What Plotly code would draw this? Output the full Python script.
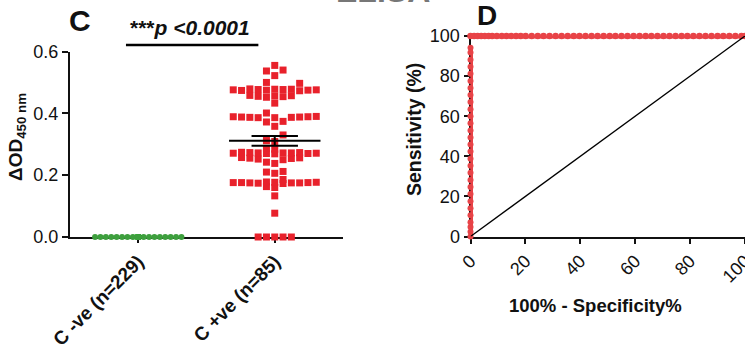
import plotly.graph_objects as go

# ---------------- data ----------------
groups = ["C -ve (n=229)", "C +ve (n=85)"]
c_neg = [0.0] * 229
c_pos = [0, 0, 0, 0, 0, 0.077, 0.133, 0.163, 0.160,
         0.176, 0.175, 0.177, 0.174, 0.176, 0.178, 0.175, 0.176, 0.173, 0.177, 0.175,
         0.186, 0.212, 0.206, 0.210, 0.242, 0.238,
         0.255, 0.252, 0.257, 0.254, 0.250, 0.256,
         0.272, 0.270, 0.273, 0.271, 0.274, 0.269, 0.272, 0.271, 0.273, 0.270, 0.272,
         0.287, 0.284, 0.312, 0.309, 0.330, 0.358, 0.374, 0.372,
         0.388, 0.386, 0.389, 0.387, 0.388, 0.390, 0.386, 0.389, 0.387,
         0.401, 0.433, 0.455, 0.457, 0.452, 0.458, 0.454, 0.456,
         0.477, 0.475, 0.478, 0.474, 0.476, 0.479, 0.475, 0.477, 0.473, 0.478, 0.476,
         0.500, 0.497, 0.522, 0.540, 0.537, 0.555]
mean_pos = 0.311
sem_pos = 0.0155
p_stars = "***"
p_text = "p <0.0001"

# ROC curve (1 - specificity %, sensitivity %)
roc_vert_sens = [0, 2.4, 4.7, 7.1, 10.6, 14.1, 17.6, 21.2, 24.7, 28.2, 31.8, 35.3, 38.8,
                 42.4, 45.9, 49.4, 52.9, 56.5, 60.0, 63.5, 67.1, 70.6, 74.1, 77.6,
                 81.2, 84.7, 88.2, 91.8, 94.1]
roc_horiz_fpr = [0, 1.3, 2.6, 3.9, 5.2, 6.6, 7.9, 9.6, 11.4, 13.1, 14.8, 16.6, 18.3,
                 20.1, 22.3, 24.5, 26.6, 28.8, 31.0, 33.2, 35.4, 37.6, 39.7, 41.9,
                 44.1, 46.3, 48.5, 50.7, 52.8, 55.0, 57.2, 59.4, 61.6, 63.8, 65.9,
                 68.1, 70.3, 72.5, 74.7, 76.9, 79.0, 81.2, 83.4, 85.6, 87.8, 90.0,
                 92.1, 94.3, 96.5, 98.7, 100]
roc_horiz_sens = [100] * len(roc_horiz_fpr)
ref_line_x = [0, 100]
ref_line_y = [0, 100]

y_ticks_left = [0, 0.2, 0.4, 0.6]
ticks_right = [0, 20, 40, 60, 80, 100]

# ---------------- layout geometry ----------------
W, H = 745, 349
FONT = "Arial, Liberation Sans, sans-serif"
RED = "#e8212b"
ROC_RED = "#e84347"
GREEN = "#3d9f3d"

xdom1 = [70 / W, 343 / W]
ydom1 = [(H - 237) / H, (H - 51.5) / H]
xr1 = [0.5, 2.5]
yr1 = [0, 0.6]
xdom2 = [470.5 / W, 1.0]
ydom2 = [(H - 236.5) / H, (H - 36) / H]

px_per_x = (xdom1[1] - xdom1[0]) * W / (xr1[1] - xr1[0])
px_per_y = (ydom1[1] - ydom1[0]) * H / (yr1[1] - yr1[0])


def swarm(values, center, col_px, max_cols, min_dist):
    """Simple beeswarm: offset points sideways in columns to avoid overlap."""
    cols = [0]
    for k in range(1, max_cols + 1):
        cols += [-k, k]
    placed = {}
    out = [None] * len(values)
    for i in sorted(range(len(values)), key=lambda j: values[j]):
        ypx = values[i] * px_per_y
        best, bestd = None, -1
        for c in cols:
            d = min((abs(ypx - p) for p in placed.get(c, [])), default=1e9)
            if d >= min_dist:
                best = c
                break
            if d > bestd:
                bestd, best = d, c
        placed.setdefault(best, []).append(ypx)
        out[i] = center + best * col_px / px_per_x
    return out


x_neg = swarm(c_neg, 1, 5.4, 8, 5)
x_pos = swarm(c_pos, 2, 8.3, 5, 7)

fig = go.Figure()
fig.add_trace(go.Scatter(x=x_neg, y=c_neg, mode="markers", cliponaxis=False,
                         marker=dict(symbol="circle", size=6, color=GREEN),
                         xaxis="x", yaxis="y", showlegend=False))
fig.add_trace(go.Scatter(x=x_pos, y=c_pos, mode="markers", cliponaxis=False,
                         marker=dict(symbol="square", size=7, color=RED),
                         xaxis="x", yaxis="y", showlegend=False))
# mean and SEM
fig.add_trace(go.Scatter(x=[2 - 0.335, 2 + 0.335], y=[mean_pos, mean_pos], mode="lines",
                         line=dict(color="black", width=2), showlegend=False))
fig.add_trace(go.Scatter(x=[2 - 0.17, 2 + 0.17, None, 2 - 0.17, 2 + 0.17, None, 2, 2],
                         y=[mean_pos + sem_pos, mean_pos + sem_pos, None,
                            mean_pos - sem_pos, mean_pos - sem_pos, None,
                            mean_pos - sem_pos, mean_pos + sem_pos],
                         mode="lines", line=dict(color="black", width=2), showlegend=False))

# ROC
fig.add_trace(go.Scatter(x=[0] * len(roc_vert_sens), y=roc_vert_sens, mode="lines+markers",
                         cliponaxis=False, line=dict(color=ROC_RED, width=5),
                         marker=dict(size=6, color=ROC_RED),
                         xaxis="x2", yaxis="y2", showlegend=False))
fig.add_trace(go.Scatter(x=roc_horiz_fpr, y=roc_horiz_sens, mode="lines+markers",
                         cliponaxis=False, line=dict(color=ROC_RED, width=5),
                         marker=dict(size=6.5, color=ROC_RED),
                         xaxis="x2", yaxis="y2", showlegend=False))
fig.add_trace(go.Scatter(x=ref_line_x, y=ref_line_y, mode="lines",
                         line=dict(color="black", width=1.3),
                         xaxis="x2", yaxis="y2", showlegend=False))

axis_common = dict(showline=True, linewidth=2, linecolor="#111", ticks="outside",
                   tickwidth=2, tickcolor="#111", showgrid=False, zeroline=False,
                   layer="below traces", fixedrange=True, automargin=False,
                   ticklabeloverflow="allow",
                   tickfont=dict(family=FONT, size=18, color="#111"))

fig.update_layout(
    template="none",
    width=W, height=H, margin=dict(l=0, r=0, t=0, b=0, pad=0),
    paper_bgcolor="white", plot_bgcolor="white",
    font=dict(family=FONT, color="#111"),
    xaxis=dict(domain=xdom1, range=xr1, tickvals=[1, 2],
               ticktext=["<b>%s</b>" % g for g in groups], tickangle=-45, ticklen=4,
               anchor="y", **{**axis_common, "tickfont": dict(family=FONT, size=19, color="#111")}),
    yaxis=dict(domain=ydom1, range=yr1, tickvals=y_ticks_left, tickformat=".1f",
               ticklen=6, anchor="x", **axis_common),
    xaxis2=dict(domain=xdom2, range=[0, 100], tickvals=ticks_right, tickangle=-45,
                ticklen=5, anchor="y2", **axis_common),
    yaxis2=dict(domain=ydom2, range=[0, 100], tickvals=ticks_right, ticklen=5,
                anchor="x2", **axis_common),
)


def xpaper1(v):
    return xdom1[0] + (v - xr1[0]) / (xr1[1] - xr1[0]) * (xdom1[1] - xdom1[0])


# significance bar
fig.add_shape(type="line", xref="paper", yref="paper",
              x0=xpaper1(0.91), x1=xpaper1(1.88), y0=(H - 45) / H, y1=(H - 45) / H,
              line=dict(color="black", width=2.5))

ann = []
ann.append(dict(text="<b>%s<i>%s</i></b>" % (p_stars, p_text), x=190 / W, y=(H - 28) / H,
                font=dict(size=21)))
ann.append(dict(text="<b>C</b>", x=80 / W, y=(H - 21) / H, font=dict(size=30)))
ann.append(dict(text="<b>D</b>", x=487 / W, y=(H - 15) / H, font=dict(size=28)))
ann.append(dict(text="<b>ΔOD<sub>450 nm</sub></b>", x=17 / W, y=(H - 137) / H,
                textangle=-90, font=dict(size=19)))
ann.append(dict(text="<b>Sensitivity (%)</b>", x=414 / W, y=(H - 130) / H,
                textangle=-90, font=dict(size=19.5)))
ann.append(dict(text="<b>100% - Specificity%</b>", x=595 / W, y=(H - 305) / H,
                font=dict(size=18.5)))
ann.append(dict(text="<b>ELISA</b>", x=383 / W, y=(H - 11) / H, yanchor="bottom",
                font=dict(size=32, color="#777")))
for a in ann:
    a.setdefault("xref", "paper")
    a.setdefault("yref", "paper")
    a.setdefault("showarrow", False)
    a.setdefault("xanchor", "center")
    a.setdefault("yanchor", "middle")
    a["font"].setdefault("family", FONT)
    a["font"].setdefault("color", "#111")
fig.update_layout(annotations=ann)

fig.write_html("out.html", config={"displayModeBar": False, "staticPlot": True},
               post_script="document.body.style.margin='0';")
